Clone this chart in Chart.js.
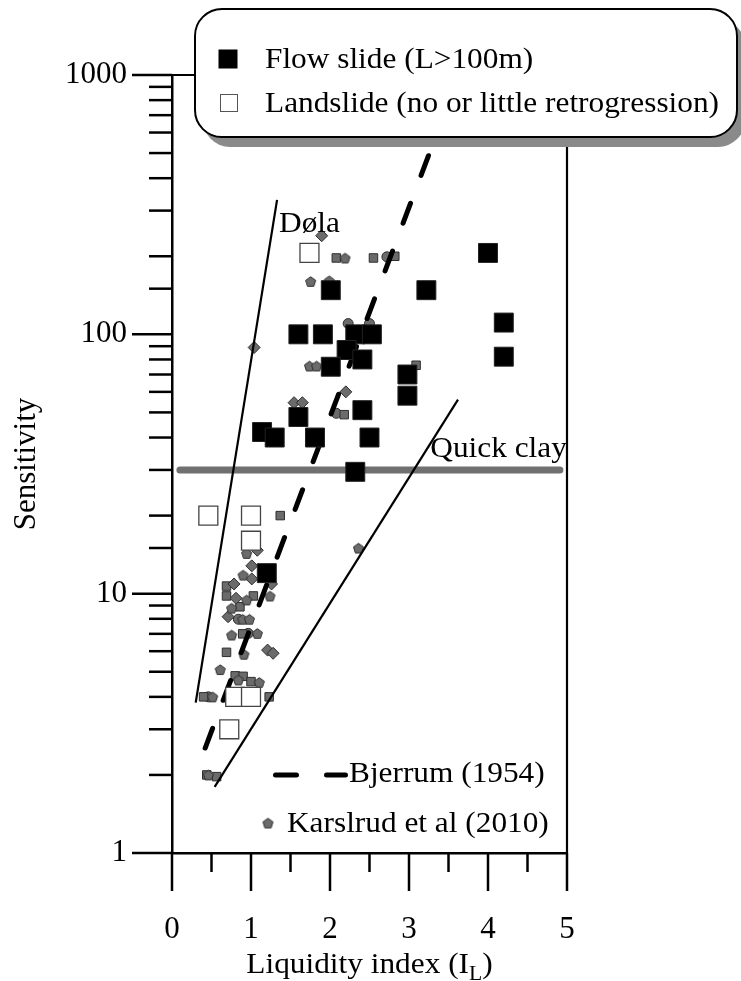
<!DOCTYPE html>
<html>
<head>
<meta charset="utf-8">
<title>Sensitivity vs liquidity index</title>
<script src="https://cdn.jsdelivr.net/npm/chart.js@4.4.1/dist/chart.umd.min.js"></script>
<style>
  html, body { margin: 0; padding: 0; background: #fff; }
  #wrap { position: relative; width: 741px; height: 981px; }
</style>
</head>
<body>
<div id="wrap"><canvas id="chart"></canvas></div>
<script>
const xTicks = [0, 1, 2, 3, 4, 5];
const yTicks = [1, 10, 100, 1000];

// [liquidity index, sensitivity]
const flowSlides = [
  [2.01, 148], [1.60, 100], [1.91, 100], [2.32, 100], [2.53, 100], [2.21, 87],
  [2.01, 75], [2.41, 80], [1.60, 48], [2.41, 51], [1.14, 42], [1.30, 40],
  [1.81, 40], [2.50, 40], [2.98, 70], [2.98, 58], [4.00, 206], [3.22, 148],
  [4.20, 111], [4.20, 82], [2.32, 29.5], [1.20, 12]
];
const landSlides = [
  [1.74, 206], [0.46, 20], [1.00, 20], [1.00, 16], [0.80, 4], [1.00, 4], [0.725, 3]
];

// Karlsrud et al (2010), split by marker shape
const karlsrudSquares = [
  [2.08, 197], [2.55, 197], [2.82, 200], [2.18, 49], [3.09, 76], [1.37, 20],
  [0.69, 10.7], [0.69, 9.8], [1.03, 9.8], [0.86, 8.9], [0.895, 7.0], [0.69, 5.94],
  [0.80, 4.82], [0.90, 4.8], [1.00, 4.58], [0.40, 4.0], [1.23, 4.0], [0.44, 2.0], [0.565, 1.97]
];
const karlsrudDiamonds = [
  [1.895, 240], [1.04, 89], [1.545, 54.5], [1.65, 54.5], [2.20, 60], [1.08, 14.7],
  [1.01, 12.8], [1.01, 11.4], [0.785, 10.9], [1.26, 10.9], [0.81, 9.6], [0.71, 8.15],
  [1.21, 6.06], [1.28, 5.89]
];
const karlsrudPentagons = [
  [2.19, 197], [1.755, 160], [1.99, 161], [1.74, 75.5], [1.83, 75.5], [2.36, 15],
  [0.945, 14.3], [0.90, 11.8], [0.945, 9.46], [1.24, 9.8], [0.755, 8.8], [0.895, 7.97],
  [0.98, 7.97], [0.755, 6.93], [1.08, 7.03], [0.91, 5.84], [0.61, 5.1], [0.84, 4.65],
  [1.105, 4.55], [0.515, 4.0], [0.46, 2.0]
];
const karlsrudCircles = [
  [2.72, 199], [2.23, 110], [2.50, 110], [2.08, 49.6], [0.84, 7.97], [0.965, 7.03], [0.46, 4.0]
];

const dolaLine = [[0.30, 3.8], [1.33, 330]];
const lowerLine = [[0.54, 1.8], [3.62, 56]];
const bjerrumLine = [[0.42, 2.54], [3.44, 700]];
const quickClayLine = [[0.10, 30], [4.91, 30]];

const FONT = '"Liberation Serif", "Times New Roman", serif';
const STRETCH = 1.08;
const GRAY = '#6b6b6b';
const GRAY_EDGE = '#2e2e2e';

const pts = (arr) => arr.map(([x, y]) => ({ x, y }));

function makePentagon(size) {
  const c = document.createElement('canvas');
  c.width = c.height = size;
  const g = c.getContext('2d');
  const r = size / 2 - 1.2;
  g.beginPath();
  for (let i = 0; i < 5; i++) {
    const a = -Math.PI / 2 + i * 2 * Math.PI / 5;
    const px = size / 2 + r * Math.cos(a);
    const py = size / 2 + 0.6 + r * Math.sin(a);
    if (i) g.lineTo(px, py); else g.moveTo(px, py);
  }
  g.closePath();
  g.fillStyle = GRAY;
  g.fill();
  g.strokeStyle = GRAY_EDGE;
  g.lineWidth = 1;
  g.stroke();
  return c;
}
const pentagon = makePentagon(13);

function serifText(ctx, text, x, y, size, align) {
  ctx.save();
  ctx.font = `${size}px ${FONT}`;
  ctx.textBaseline = 'alphabetic';
  ctx.textAlign = align || 'left';
  ctx.fillStyle = '#000';
  ctx.translate(x, y);
  ctx.scale(STRETCH, 1);
  ctx.fillText(text, 0, 0);
  ctx.restore();
}

function textWidth(ctx, text, size) {
  ctx.save();
  ctx.font = `${size}px ${FONT}`;
  const w = ctx.measureText(text).width * STRETCH;
  ctx.restore();
  return w;
}

function roundRectPath(ctx, x, y, w, h, r) {
  ctx.beginPath();
  ctx.moveTo(x + r, y);
  ctx.lineTo(x + w - r, y);
  ctx.arcTo(x + w, y, x + w, y + r, r);
  ctx.lineTo(x + w, y + h - r);
  ctx.arcTo(x + w, y + h, x + w - r, y + h, r);
  ctx.lineTo(x + r, y + h);
  ctx.arcTo(x, y + h, x, y + h - r, r);
  ctx.lineTo(x, y + r);
  ctx.arcTo(x, y, x + r, y, r);
  ctx.closePath();
}

function line(ctx, x1, y1, x2, y2) {
  ctx.beginPath();
  ctx.moveTo(x1, y1);
  ctx.lineTo(x2, y2);
  ctx.stroke();
}

const framePlugin = {
  id: 'frame',
  afterDraw(chart) {
    const { ctx, chartArea: a } = chart;
    const xs = chart.scales.x;
    const ys = chart.scales.y;
    ctx.save();

    // top and right border of the plot box
    ctx.strokeStyle = '#000';
    ctx.lineWidth = 2.2;
    ctx.beginPath();
    ctx.moveTo(a.left, a.top);
    ctx.lineTo(a.right, a.top);
    ctx.lineTo(a.right, a.bottom);
    ctx.stroke();

    // outward tick marks, major and minor
    ctx.lineWidth = 2.5;
    ys.ticks.forEach((t) => {
      const py = ys.getPixelForValue(t.value);
      const len = yTicks.includes(t.value) ? 40 : 23;
      line(ctx, a.left - len, py, a.left, py);
    });
    xs.ticks.forEach((t) => {
      const px = xs.getPixelForValue(t.value);
      const len = xTicks.includes(t.value) ? 38 : 19;
      line(ctx, px, a.bottom, px, a.bottom + len);
    });

    // annotations
    serifText(ctx, 'Døla', xs.getPixelForValue(1.355), ys.getPixelForValue(249), 29);
    serifText(ctx, 'Quick clay', xs.getPixelForValue(3.27), ys.getPixelForValue(33.7), 29);

    // in-plot legend
    ctx.strokeStyle = '#000';
    ctx.lineWidth = 5;
    ctx.lineCap = 'round';
    ctx.setLineDash([21, 30]);
    line(ctx, 275.5, 775, 345.5, 775);
    ctx.setLineDash([]);
    ctx.lineCap = 'butt';
    serifText(ctx, 'Bjerrum (1954)', 349, 782, 29);
    ctx.drawImage(pentagon, 268 - pentagon.width / 2, 823 - pentagon.height / 2);
    serifText(ctx, 'Karslrud et al (2010)', 287, 832, 29);

    // x axis title with subscript
    const t1 = 'Liquidity index (I';
    const t2 = 'L';
    const t3 = ')';
    const w1 = textWidth(ctx, t1, 29);
    const w2 = textWidth(ctx, t2, 20);
    const w3 = textWidth(ctx, t3, 29);
    let sx = (a.left + a.right) / 2 - (w1 + w2 + w3) / 2;
    serifText(ctx, t1, sx, 973, 29);
    sx += w1;
    serifText(ctx, t2, sx, 980, 20);
    sx += w2;
    serifText(ctx, t3, sx, 973, 29);

    // top legend box with drop shadow
    const bx = 195, by = 9, bw = 542, bh = 128, br = 27;
    roundRectPath(ctx, bx + 8, by + 10, bw, bh, br);
    ctx.fillStyle = '#8a8a8a';
    ctx.fill();
    roundRectPath(ctx, bx, by, bw, bh, br);
    ctx.fillStyle = '#fff';
    ctx.fill();
    ctx.lineWidth = 2;
    ctx.strokeStyle = '#000';
    ctx.stroke();

    ctx.fillStyle = '#000';
    ctx.fillRect(218.5, 49.5, 19, 19);
    ctx.fillStyle = '#fff';
    ctx.fillRect(220, 94, 18, 18);
    ctx.strokeStyle = '#555';
    ctx.lineWidth = 1;
    ctx.strokeRect(220.5, 94.5, 17, 17);
    serifText(ctx, 'Flow slide (L>100m)', 265, 68, 29);
    serifText(ctx, 'Landslide (no or little retrogression)', 265, 112, 29);

    ctx.restore();
  }
};

const lineSet = (label, data, extra) => Object.assign({
  label,
  data: pts(data),
  showLine: true,
  pointRadius: 0,
  borderColor: '#000',
  borderWidth: 2.2,
  fill: false
}, extra);

const graySet = (label, data, style, radius, order) => ({
  label,
  data: pts(data),
  pointStyle: style,
  pointRadius: radius,
  backgroundColor: GRAY,
  borderColor: GRAY_EDGE,
  borderWidth: 1,
  order
});

new Chart(document.getElementById('chart'), {
  type: 'scatter',
  data: {
    datasets: [
      {
        label: 'Flow slide (L>100m)',
        data: pts(flowSlides),
        pointStyle: 'rect',
        pointRadius: 13.4,
        backgroundColor: '#000',
        borderColor: '#222',
        borderWidth: 1,
        order: 1
      },
      {
        label: 'Landslide (no or little retrogression)',
        data: pts(landSlides),
        pointStyle: 'rect',
        pointRadius: 13.4,
        backgroundColor: '#fff',
        borderColor: '#444',
        borderWidth: 1.3,
        order: 2
      },
      lineSet('Døla bound', dolaLine, { order: 3 }),
      lineSet('Lower bound', lowerLine, { order: 3 }),
      lineSet('Bjerrum (1954)', bjerrumLine, {
        borderWidth: 5,
        borderDash: [21, 30],
        borderCapStyle: 'round',
        order: 4
      }),
      graySet('Karslrud et al (2010)', karlsrudPentagons, pentagon, 6, 5),
      graySet('Karslrud et al (2010)', karlsrudDiamonds, 'rectRot', 6, 6),
      graySet('Karslrud et al (2010)', karlsrudSquares, 'rect', 6, 7),
      graySet('Karslrud et al (2010)', karlsrudCircles, 'circle', 5, 8),
      lineSet('Quick clay', quickClayLine, {
        borderColor: '#707070',
        borderWidth: 7,
        borderCapStyle: 'round',
        order: 9
      })
    ]
  },
  options: {
    responsive: true,
    maintainAspectRatio: false,
    animation: false,
    events: [],
    layout: { padding: { left: 0, right: 174, top: 75, bottom: 0 } },
    plugins: {
      legend: { display: false },
      tooltip: { enabled: false }
    },
    scales: {
      x: {
        type: 'linear',
        min: 0,
        max: 5,
        grid: { display: false, drawTicks: false },
        border: { display: true, color: '#000', width: 2.5 },
        ticks: {
          stepSize: 0.5,
          autoSkip: false,
          maxRotation: 0,
          padding: 58,
          color: '#000',
          font: { family: FONT, size: 31 },
          callback: (v) => (xTicks.includes(v) ? String(v) : '')
        },
        afterFit: (s) => { s.height = 128; }
      },
      y: {
        type: 'logarithmic',
        min: 1,
        max: 1000,
        grid: { display: false, drawTicks: false },
        border: { display: true, color: '#000', width: 2.5 },
        ticks: {
          autoSkip: false,
          padding: 45,
          color: '#000',
          font: { family: FONT, size: 31 },
          callback: (v) => (yTicks.includes(v) ? String(v) : '')
        },
        title: {
          display: true,
          text: 'Sensitivity',
          color: '#000',
          font: { family: FONT, size: 31 },
          padding: { top: 8, bottom: 0 }
        },
        afterFit: (s) => { s.width = 172; }
      }
    }
  },
  plugins: [framePlugin]
});
</script>
</body>
</html>
